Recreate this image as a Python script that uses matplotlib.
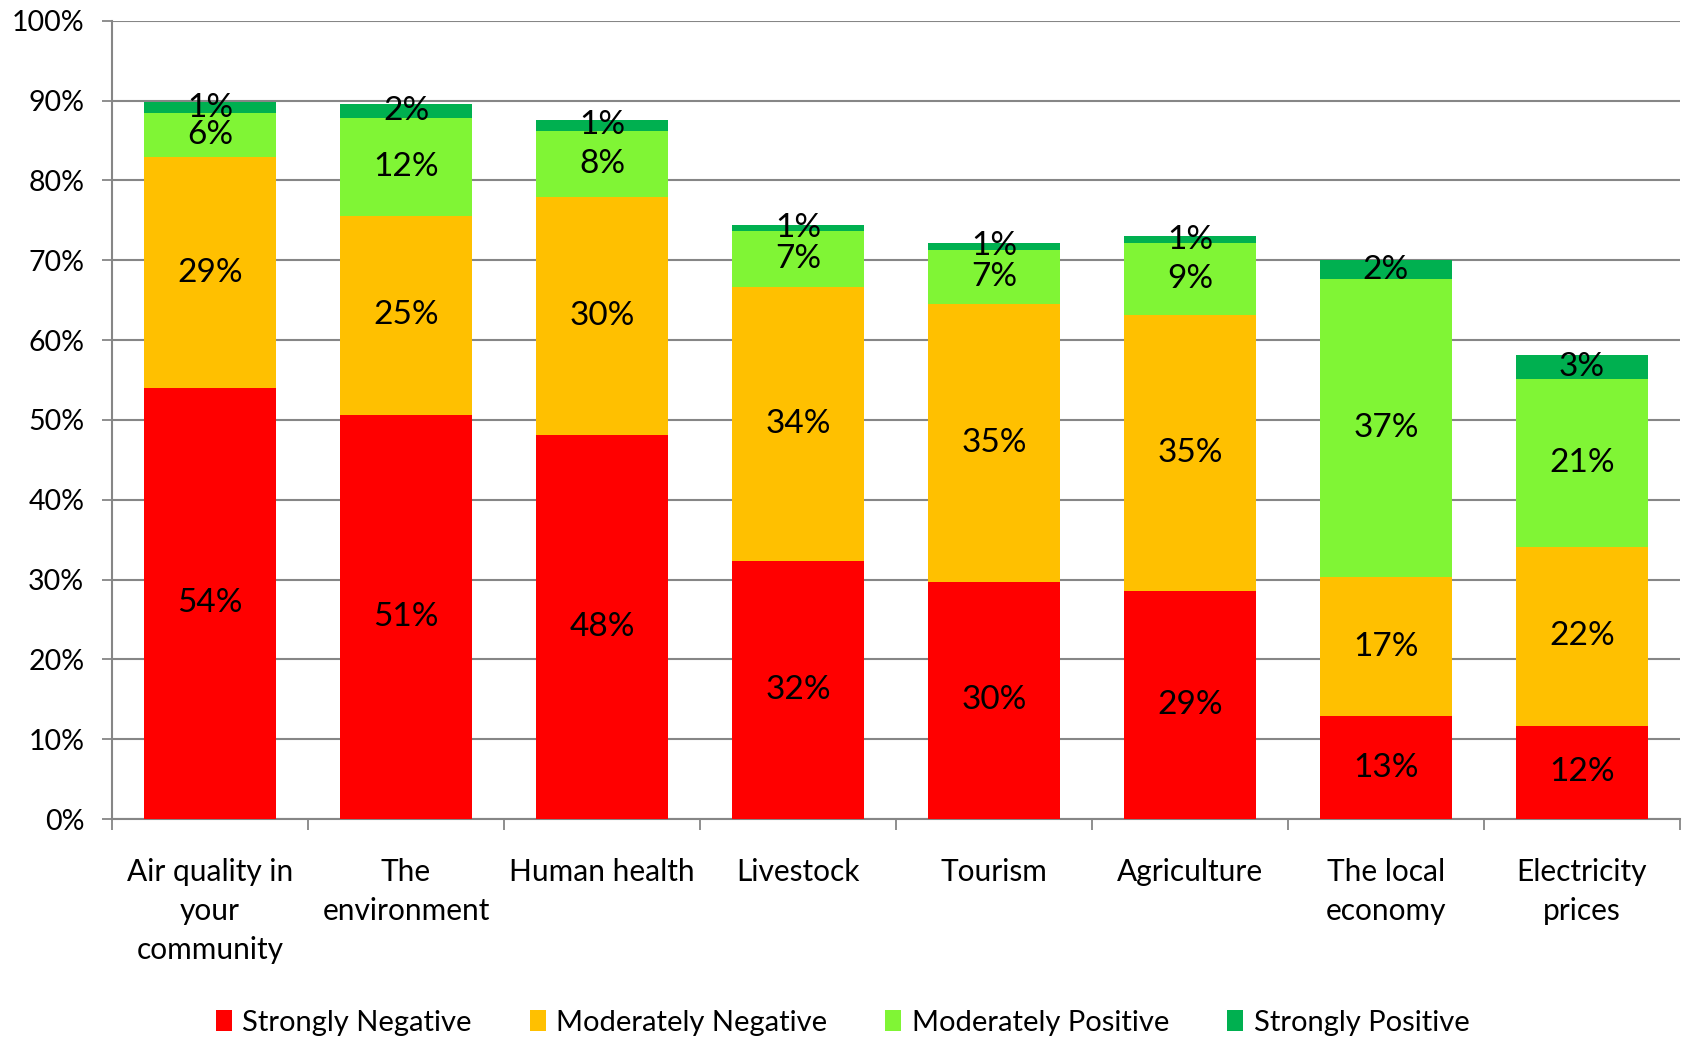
import numpy as np
import matplotlib.pyplot as plt
from matplotlib.ticker import FixedLocator, PercentFormatter

plt.rcParams['font.family'] = ['Lato', 'DejaVu Sans']

categories = ["Air quality in\nyour\ncommunity", "The\nenvironment", "Human health",
              "Livestock", "Tourism", "Agriculture", "The local\neconomy",
              "Electricity\nprices"]
series_names = ["Strongly Negative", "Moderately Negative",
                "Moderately Positive", "Strongly Positive"]
strongly_negative = [54.0, 50.6, 48.1, 32.3, 29.7, 28.6, 12.9, 11.7]
moderately_negative = [28.9, 25.0, 29.8, 34.4, 34.8, 34.6, 17.4, 22.4]
moderately_positive = [5.5, 12.2, 8.3, 7.0, 6.8, 9.0, 37.3, 21.0]
strongly_positive = [1.4, 1.8, 1.4, 0.7, 0.9, 0.8, 2.4, 3.0]
colors = ["#FF0000", "#FFC000", "#80F535", "#00B050"]

series = [strongly_negative, moderately_negative, moderately_positive, strongly_positive]

fig = plt.figure(figsize=(16.85, 10.4), dpi=100)
ax = fig.add_axes([0.0665, 0.2125, 0.9305, 0.7675])

x = np.arange(len(categories))
bottom = np.zeros(len(categories))
for name, vals, col in zip(series_names, series, colors):
    vals = np.array(vals)
    ax.bar(x, vals, width=0.67, bottom=bottom, color=col, label=name, zorder=3)
    for xi, b, v in zip(x, bottom, vals):
        ax.text(xi, b + v / 2, f"{round(v):.0f}%", ha="center", va="center",
                fontsize=24, color="black", zorder=4)
    bottom += vals

ax.set_xlim(-0.5, len(categories) - 0.5)
ax.set_ylim(0, 100)
ax.set_yticks(np.arange(0, 101, 10))
ax.yaxis.set_major_formatter(PercentFormatter(decimals=0))
ax.grid(axis="y", color="#868686", linewidth=1.5, zorder=0)

ax.set_xticks(x)
ax.set_xticklabels(categories, fontsize=21.5, linespacing=1.47)
ax.xaxis.set_minor_locator(FixedLocator(np.arange(-0.5, len(categories), 1)))
ax.tick_params(axis="x", which="major", length=0, pad=28)
ax.tick_params(axis="x", which="minor", length=8, width=1.3, color="#868686")
ax.tick_params(axis="y", length=7, width=1.3, color="#868686", labelsize=20.5, pad=13)
for lbl in ax.get_xticklabels():
    lbl.set_verticalalignment("top")

for s in ["top", "right"]:
    ax.spines[s].set_visible(False)
for s in ["left", "bottom"]:
    ax.spines[s].set_color("#868686")
    ax.spines[s].set_linewidth(1.5)

fig.legend(loc="lower center", bbox_to_anchor=(0.5, -0.021), ncol=4, frameon=False,
           fontsize=21, handlelength=0.55, handleheight=0.75, handletextpad=0.35,
           columnspacing=2.0)

fig.savefig("out.png", dpi=100)
